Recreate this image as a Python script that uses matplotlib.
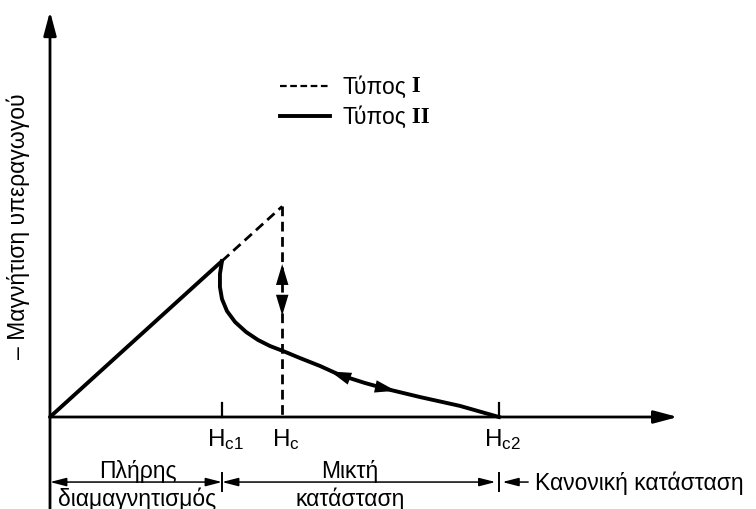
import numpy as np
import matplotlib
matplotlib.use('Agg')
import matplotlib.pyplot as plt

plt.rcParams['font.family'] = ['Liberation Sans', 'DejaVu Sans']

# field values (units of Hc1) and magnetisation (same units)
h_c1 = 1.0
h_c = 1.35
h_c2 = 2.61

# type II branch between Hc1 and Hc2
h_mixed = [1.00, 0.988, 0.988, 1.00, 1.029, 1.076, 1.14, 1.209, 1.279, 1.355,
           1.453, 1.57, 1.686, 1.831, 1.959, 2.151, 2.384, 2.61]
m_mixed = [1.00, 0.917, 0.833, 0.756, 0.679, 0.609, 0.545, 0.494, 0.455, 0.423,
           0.378, 0.327, 0.269, 0.218, 0.179, 0.128, 0.071, 0.0]

tick_names = [r'$\mathregular{H_{c1}}$', r'$\mathregular{H_c}$', r'$\mathregular{H_{c2}}$']
legend_names = ['Τύπος', 'Τύπος']
legend_nums = [' I', ' II']
ylabel = '– Μαγνήτιση υπεραγωγού'

fig = plt.figure(figsize=(7.56, 5.10), dpi=100)
ax = fig.add_axes([0, 0, 1, 1])
ax.set_xlim(-50 / 172, 706 / 172)
ax.set_ylim(-92 / 156, 418 / 156)
ax.axis('off')

k = 'black'
dash = (0, (3.5, 2))
fs = 16.5

# axes with arrow heads
ax.annotate('', xy=(0, 2.60), xytext=(0, -0.62),
            arrowprops=dict(arrowstyle='-|>,head_length=0.9,head_width=0.24',
                            lw=2.0, color=k, mutation_scale=16, shrinkA=0, shrinkB=0))
ax.annotate('', xy=(3.65, 0), xytext=(0, 0),
            arrowprops=dict(arrowstyle='-|>,head_length=0.9,head_width=0.24',
                            lw=2.0, color=k, mutation_scale=16, shrinkA=0, shrinkB=0))

# Meissner state
ax.plot([0, h_c1], [0, h_c1], color=k, lw=2.8, solid_capstyle='round')
ax.plot([h_c1, h_c], [h_c1, h_c], color=k, lw=2.0, ls=dash)
ax.plot([h_c, h_c], [h_c, 0], color=k, lw=2.0, ls=dash)

# mixed state curve
ax.plot(h_mixed, m_mixed, color=k, lw=2.8, solid_joinstyle='round')

head = dict(arrowstyle='-|>,head_length=1.0,head_width=0.3', color=k, lw=0,
            mutation_scale=15, shrinkA=0, shrinkB=0)
ax.annotate('', xy=(h_c, 0.98), xytext=(h_c, 0.90), arrowprops=head)
ax.annotate('', xy=(h_c, 0.65), xytext=(h_c, 0.73), arrowprops=head)
ax.annotate('', xy=(1.63, 0.292), xytext=(1.74, 0.247), arrowprops=head)
ax.annotate('', xy=(2.01, 0.168), xytext=(1.90, 0.194), arrowprops=head)

# field ticks and labels
for hv in (h_c1, h_c2):
    ax.plot([hv, hv], [0, 0.09], color=k, lw=1.6)
for hv, name in zip((h_c1, h_c, h_c2), tick_names):
    ax.text(hv + 0.02, -0.14, name, ha='center', va='center', fontsize=17.5)

# legend
leg_y = [2.122, 1.929]
ax.plot([1.337, 1.628], [leg_y[0]] * 2, color=k, lw=1.6, ls=(0, (3, 1.6)))
ax.plot([1.337, 1.628], [leg_y[1]] * 2, color=k, lw=2.8)
for yv, name, num in zip(leg_y, legend_names, legend_nums):
    t = ax.text(1.70, yv, name, ha='left', va='center', fontsize=fs)
    ax.annotate(num, xy=(1, 0.5), xycoords=t, ha='left', va='center',
                fontsize=fs, family='Liberation Serif', weight='bold')

ax.text(-0.185, 1.23, ylabel, rotation=90, ha='center', va='center', fontsize=16.5)

# state ranges below the axis
ry = -0.417
thin = dict(arrowstyle='<|-|>,head_length=0.7,head_width=0.18', color=k, lw=1.1,
            mutation_scale=14, shrinkA=0, shrinkB=0)
ax.annotate('', xy=(0, ry), xytext=(h_c1, ry), arrowprops=thin)
ax.annotate('', xy=(h_c1, ry), xytext=(h_c2 - 0.02, ry), arrowprops=thin)
ax.annotate('', xy=(h_c2 + 0.02, ry), xytext=(2.78, ry),
            arrowprops=dict(thin, arrowstyle='-|>,head_length=0.7,head_width=0.18'))
for hv in (h_c1, h_c2):
    ax.plot([hv, hv], [ry + 0.055, ry - 0.055], color=k, lw=1.4)

ax.text(0.51, -0.385, 'Πλήρης', ha='center', va='baseline', fontsize=fs)
ax.text(0.506, -0.52, 'διαμαγνητισμός', ha='center', va='center', fontsize=fs)
ax.text(1.744, -0.385, 'Μικτή', ha='center', va='baseline', fontsize=fs)
ax.text(1.744, -0.52, 'κατάσταση', ha='center', va='center', fontsize=fs)
ax.text(2.82, ry, 'Κανονική κατάσταση', ha='left', va='center', fontsize=fs)

fig.savefig('out.png', dpi=100)
